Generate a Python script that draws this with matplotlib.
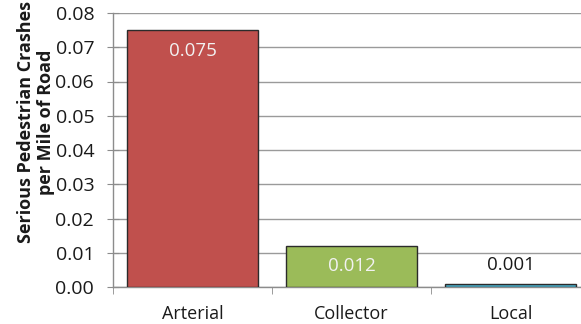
import numpy as np
import matplotlib.pyplot as plt

categories = ['Arterial', 'Collector', 'Local']
values = [0.075, 0.012, 0.001]
labels = ['0.075', '0.012', '0.001']
colors = ['#C0504D', '#9BBB59', '#4BACC6']
label_colors = ['#F2F2F2', '#F2F2F2', '#1a1a1a']
yticks = [0.00, 0.01, 0.02, 0.03, 0.04, 0.05, 0.06, 0.07, 0.08]

plt.rcParams['font.family'] = ['Open Sans', 'DejaVu Sans']

fig = plt.figure(figsize=(5.81, 3.24), dpi=100)
# plot area runs past the right edge, as in the cropped original
ax = fig.add_axes([113/581, 1-287/324, (590-113)/581, (287-13)/324])

x = np.arange(len(categories))
ax.bar(x, values, width=0.83, color=colors, edgecolor='#2b2b2b', linewidth=1.0, zorder=3)

for i, v in enumerate(values):
    if v > 0.005:
        ax.text(x[i], v - 0.006, labels[i], ha='center', va='center',
                fontsize=13.5, color=label_colors[i], zorder=4)
    else:
        ax.text(x[i], v + 0.0055, labels[i], ha='center', va='center',
                fontsize=13.5, color=label_colors[i], zorder=4)

ax.set_xlim(-0.5, 2.5)
ax.set_ylim(0, 0.08)
ax.set_yticks(yticks)
ax.set_yticklabels(['{:.2f}'.format(t) for t in yticks], fontsize=14, color='#1a1a1a')
ax.yaxis.grid(True, color='#9a9a9a', linewidth=1.0, zorder=0)

ax.set_xticks(x)
ax.set_xticklabels(categories, fontsize=13, color='#1a1a1a')
ax.set_xticks([-0.5, 0.5, 1.5, 2.5], minor=True)
ax.tick_params(axis='x', which='major', length=0, pad=13)
ax.tick_params(axis='x', which='minor', length=5, color='#8c8c8c', direction='out')
ax.tick_params(axis='y', length=9, color='#8c8c8c', direction='inout', pad=9)

for s in ['top', 'right']:
    ax.spines[s].set_visible(False)
for s in ['left', 'bottom']:
    ax.spines[s].set_color('#8c8c8c')
    ax.spines[s].set_linewidth(1.0)

fig.text(0.062, 1-122/324, 'Serious Pedestrian Crashes\nper Mile of Road',
         rotation=90, ha='center', va='center', multialignment='center',
         fontsize=13, fontweight='bold', color='#1a1a1a', linespacing=1.1)

fig.savefig('out.png', dpi=100)
